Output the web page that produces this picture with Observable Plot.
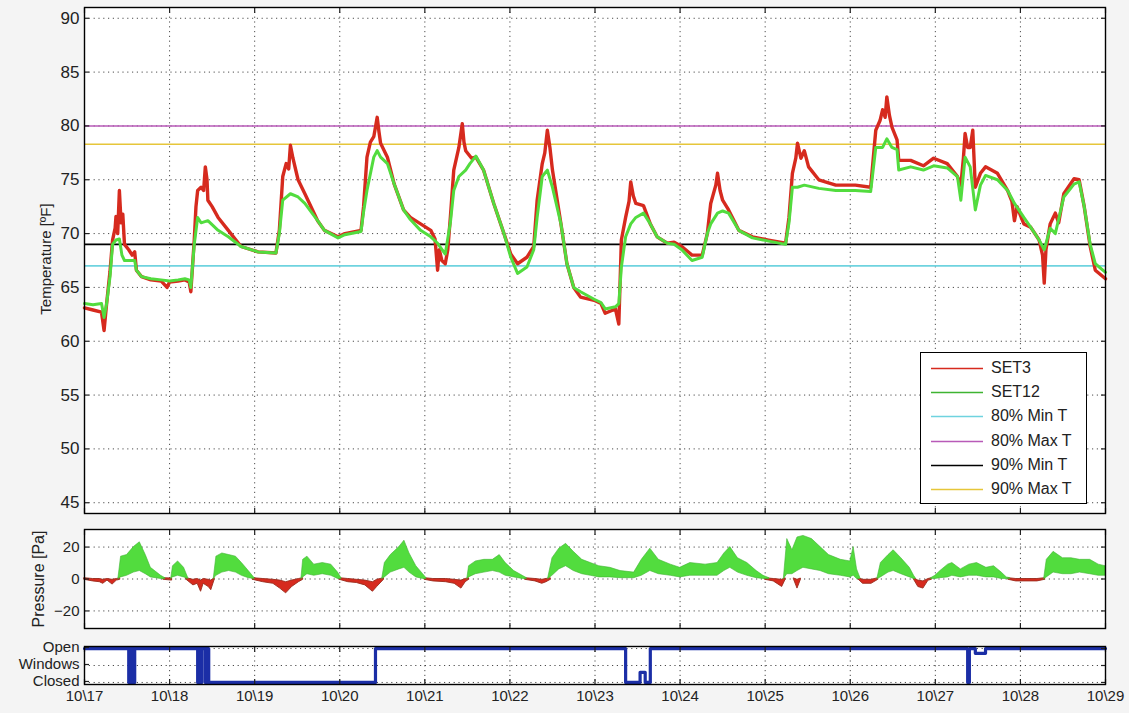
<!DOCTYPE html>
<html><head><meta charset="utf-8">
<script src="https://cdn.jsdelivr.net/npm/d3@7"></script>
<script src="https://cdn.jsdelivr.net/npm/@observablehq/plot@0.6"></script>
<style>
body{margin:0;background:#f4f4f4;}
#fig{position:relative;width:1129px;height:713px;overflow:hidden;font-family:"Liberation Sans",Arial,sans-serif;background:#f4f4f4;}
.panel{position:absolute;left:0;}
.ylab{position:absolute;transform:translate(-50%,-50%) rotate(-90deg);white-space:nowrap;color:#222;}
#legend{position:absolute;left:920px;top:352px;width:165px;height:150px;background:#fff;border:1px solid #000;}
#legend .row{position:absolute;left:0;width:165px;height:20px;}
#legend svg{position:absolute;left:8px;top:0;}
#legend .tx{position:absolute;left:70px;top:0;font-size:16px;line-height:20px;color:#222;}
</style></head><body><div id="fig"></div>
<script>
// ---------- data ----------
const dayLabels = ["10\\17","10\\18","10\\19","10\\20","10\\21","10\\22","10\\23","10\\24","10\\25","10\\26","10\\27","10\\28","10\\29"];
const dayTicks = [0,1,2,3,4,5,6,7,8,9,10,11,12];   // days since 10/17 00:00
const tempTicks = [45,50,55,60,65,70,75,80,85,90];
const pressTicks = [-20,0,20];
const windowTicks = [0,0.5,1];
const windowLabels = ["Closed","Windows","Open"];

// [day, °F]
const set3Temp = [[0,63.1],[0.1,62.9],[0.2,62.7],[0.23,61.0],[0.26,63.5],[0.3,66.5],[0.33,69.4],[0.36,70.5],[0.37,71.6],[0.39,70.0],[0.41,74.0],[0.43,71.0],[0.45,71.8],[0.47,69.0],[0.52,68.5],[0.56,68.0],[0.59,68.3],[0.61,66.6],[0.67,66.0],[0.78,65.7],[0.9,65.6],[0.97,65.0],[1.0,65.5],[1.1,65.6],[1.18,65.7],[1.23,65.5],[1.25,64.6],[1.27,67.0],[1.29,69.4],[1.31,72.5],[1.33,74.0],[1.37,74.3],[1.40,74.0],[1.42,76.2],[1.44,75.0],[1.45,73.1],[1.5,72.5],[1.57,71.5],[1.69,70.3],[1.84,68.8],[2.04,68.3],[2.25,68.2],[2.29,70.3],[2.33,75.3],[2.37,76.5],[2.40,76.0],[2.42,78.2],[2.45,77.0],[2.48,76.0],[2.51,75.0],[2.59,73.7],[2.74,71.2],[2.82,70.3],[2.98,69.7],[3.06,70.0],[3.25,70.3],[3.28,72.5],[3.32,77.1],[3.36,78.5],[3.40,79.0],[3.44,80.8],[3.46,79.5],[3.48,78.4],[3.56,77.1],[3.64,74.6],[3.75,72.2],[3.83,71.5],[3.95,70.9],[4.07,70.3],[4.12,69.5],[4.15,66.6],[4.17,68.5],[4.2,67.5],[4.24,67.2],[4.27,68.5],[4.30,71.5],[4.34,75.9],[4.40,78.0],[4.44,80.2],[4.46,78.5],[4.48,77.7],[4.55,77.0],[4.60,77.1],[4.69,75.9],[4.81,72.8],[4.93,70.0],[5.01,68.1],[5.09,67.2],[5.2,67.8],[5.28,68.8],[5.32,73.1],[5.38,76.5],[5.41,77.5],[5.44,79.6],[5.47,78.0],[5.50,75.9],[5.60,70.9],[5.67,67.2],[5.75,65.0],[5.83,64.1],[5.99,63.8],[6.07,63.5],[6.12,62.6],[6.24,63.0],[6.28,61.6],[6.31,69.4],[6.36,71.5],[6.40,73.0],[6.42,74.8],[6.45,73.5],[6.48,72.8],[6.57,72.6],[6.65,70.9],[6.73,69.7],[6.85,69.1],[6.93,69.2],[7.02,68.8],[7.14,68.0],[7.26,68.0],[7.32,70.0],[7.36,72.8],[7.42,74.5],[7.44,75.6],[7.47,74.0],[7.50,73.1],[7.57,72.2],[7.69,70.3],[7.85,69.7],[8.04,69.4],[8.24,69.1],[8.28,71.5],[8.32,75.6],[8.36,77.0],[8.38,78.4],[8.42,77.0],[8.46,77.7],[8.51,76.2],[8.63,75.0],[8.83,74.5],[9.06,74.5],[9.24,74.3],[9.30,79.6],[9.35,80.5],[9.38,81.5],[9.41,80.8],[9.43,82.7],[9.46,81.0],[9.49,79.9],[9.55,78.7],[9.57,76.8],[9.71,76.8],[9.86,76.3],[9.98,77.0],[10.14,76.5],[10.26,75.3],[10.30,74.5],[10.33,77.0],[10.35,79.3],[10.38,78.0],[10.41,78.0],[10.44,79.6],[10.47,74.3],[10.53,75.6],[10.59,76.2],[10.73,75.6],[10.85,74.0],[10.90,73.0],[10.93,71.2],[10.96,72.5],[11.04,70.9],[11.12,70.6],[11.22,69.4],[11.26,68.0],[11.28,65.4],[11.30,68.5],[11.35,70.9],[11.41,71.9],[11.45,71.0],[11.51,73.7],[11.63,75.1],[11.69,75.0],[11.75,72.5],[11.82,68.8],[11.88,66.6],[12.0,65.8]];

const set12Temp = [[0,63.5],[0.1,63.4],[0.2,63.5],[0.23,62.2],[0.26,63.5],[0.3,66.0],[0.33,69.0],[0.37,69.4],[0.41,69.5],[0.44,68.0],[0.47,67.5],[0.59,67.5],[0.61,66.6],[0.67,66.0],[0.78,65.8],[0.9,65.7],[1.0,65.6],[1.1,65.7],[1.18,65.8],[1.23,65.7],[1.25,65.0],[1.27,67.0],[1.29,69.0],[1.33,71.5],[1.37,71.0],[1.45,71.2],[1.57,70.3],[1.69,69.7],[1.84,68.8],[2.04,68.3],[2.25,68.2],[2.29,70.0],[2.33,73.1],[2.42,73.7],[2.51,73.4],[2.59,72.8],[2.74,71.2],[2.82,70.3],[2.98,69.6],[3.06,69.9],[3.25,70.2],[3.28,72.0],[3.32,74.0],[3.40,77.1],[3.44,77.7],[3.48,77.1],[3.56,76.5],[3.64,74.6],[3.75,72.2],[3.83,71.3],[3.95,70.3],[4.07,69.7],[4.15,69.1],[4.24,68.1],[4.30,71.0],[4.34,74.0],[4.40,75.3],[4.48,75.9],[4.53,76.5],[4.60,77.2],[4.69,75.9],[4.81,72.8],[4.93,70.0],[5.01,67.8],[5.09,66.3],[5.2,66.9],[5.28,68.5],[5.32,71.5],[5.38,75.3],[5.44,75.9],[5.50,74.3],[5.60,70.9],[5.67,67.2],[5.75,65.0],[5.83,64.6],[5.99,63.9],[6.07,63.6],[6.12,63.0],[6.24,63.2],[6.28,63.5],[6.31,66.9],[6.36,69.7],[6.42,70.9],[6.48,71.5],[6.57,71.9],[6.65,70.9],[6.73,69.7],[6.85,69.1],[6.93,69.0],[7.02,68.5],[7.14,67.5],[7.26,67.8],[7.32,70.0],[7.36,70.9],[7.44,71.9],[7.50,72.1],[7.57,71.9],[7.69,70.3],[7.85,69.6],[8.04,69.3],[8.24,69.0],[8.28,71.0],[8.32,74.3],[8.38,74.3],[8.46,74.5],[8.63,74.2],[8.83,74.0],[9.06,74.0],[9.24,73.9],[9.30,78.0],[9.38,78.0],[9.43,78.8],[9.49,78.0],[9.55,77.8],[9.57,75.9],[9.71,76.2],[9.86,75.9],[9.98,76.3],[10.14,76.1],[10.26,75.3],[10.30,73.1],[10.35,77.1],[10.41,76.2],[10.47,72.2],[10.53,74.5],[10.59,75.4],[10.73,75.0],[10.85,74.0],[10.93,72.8],[11.04,71.5],[11.12,70.6],[11.22,69.4],[11.28,68.5],[11.35,70.5],[11.41,70.0],[11.51,73.4],[11.63,74.6],[11.69,74.8],[11.75,72.5],[11.82,69.0],[11.88,67.2],[12.0,66.4]];

const thresholdNames = ["80% Min T","80% Max T","90% Min T","90% Max T"];
const thresholdValues = [67, 80, 69, 78.3];

// [day, low, high] Pa ; null rows = stretches where the series is hidden
const set3Press = [[0,-0.5,0.5],[0.1,-1.5,0],[0.18,-2,0],[0.22,-3,-0.5],[0.27,-1,0],[0.33,-3.5,-0.5],[0.38,-1,0],[0.42,-0.5,0.5],[0.43,null,null],
[0.93,-0.5,0.5],[1.03,-1,0.3],[1.04,null,null],
[1.2,-0.5,0.5],[1.28,-4,-0.5],[1.33,-3,0],[1.37,-8,-1],[1.4,-3,0],[1.46,-5,-0.5],[1.49,-7,-1],[1.53,-0.5,0.5],[1.54,null,null],
[1.98,-0.5,0.5],[2.1,-2,0],[2.22,-3,-0.5],[2.3,-6,-1],[2.37,-9,-2],[2.44,-5,-1],[2.52,-2,0],[2.57,-0.5,0.5],[2.58,null,null],
[3.0,-0.5,0.5],[3.1,-2,0],[3.2,-2.5,-0.5],[3.3,-4,-1],[3.39,-8,-2],[3.44,-5,-0.5],[3.52,-0.5,0.5],[3.53,null,null],
[4.0,-0.5,0.5],[4.1,-1.5,0],[4.25,-2,0],[4.35,-3,-0.5],[4.43,-6,-1],[4.48,-2,0],[4.52,-0.5,0.5],[4.53,null,null],
[5.18,-0.5,0.5],[5.3,-1.5,0],[5.38,-3,-0.5],[5.43,-2,0],[5.48,-0.5,0.5],[5.49,null,null],
[8.0,-0.5,0.5],[8.1,-1.5,0],[8.2,-5,-0.5],[8.24,-0.5,0.5],[8.25,null,null],
[8.34,-0.5,0.3],[8.38,-6,-0.5],[8.42,-0.5,0.3],[8.43,null,null],
[9.1,-0.5,0.5],[9.15,-3,-0.5],[9.25,-3,-0.5],[9.33,-0.5,0.5],[9.34,null,null],
[9.75,-0.5,0.5],[9.8,-5,-1],[9.86,-6,-1.5],[9.92,-1,0],[9.96,-0.5,0.5],[9.97,null,null],
[10.86,-0.5,0.5],[10.95,-1.5,0],[11.2,-1.5,0],[11.29,-0.5,0.5]];

const set12Press = [[0.4,0,1],[0.43,1,14],[0.5,2,15],[0.58,4,20],[0.65,5,23],[0.72,3,15],[0.78,1,7],[0.9,0,2],[0.95,0,0.5],[0.96,null,null],
[1.02,0,0.5],[1.04,1,8],[1.1,2,11],[1.17,1,7],[1.22,0,0.5],[1.23,null,null],
[1.52,0,0.5],[1.55,2,14],[1.62,4,16],[1.7,5,15],[1.78,4,14],[1.85,2,10],[1.93,0.5,5],[2.0,0,0.5],[2.01,null,null],
[2.55,0,0.5],[2.57,1,12],[2.62,3,14],[2.7,2,9],[2.8,3,10],[2.9,2,9],[2.98,0,4],[3.02,0,0.5],[3.03,null,null],
[3.5,0,0.5],[3.53,1,10],[3.6,4,15],[3.7,6,20],[3.76,7,24],[3.82,4,16],[3.9,1,8],[3.98,0,3],[4.02,0,0.5],[4.03,null,null],
[4.5,0,0.5],[4.52,1,8],[4.6,3,11],[4.7,4,12],[4.8,5,12],[4.88,4,15],[4.95,2,10],[5.05,1,5],[5.15,0,2],[5.2,0,0.5],[5.21,null,null],
[5.45,0,0.5],[5.5,2,13],[5.58,6,19],[5.66,8,22],[5.75,5,17],[5.85,3,12],[5.95,2,10],[6.05,1,8],[6.18,1,7],[6.3,0.5,5],[6.46,0.5,4],[6.55,2,12],[6.65,5,19],[6.75,3,12],[6.89,2,9],[7.0,1,7],[7.12,2,10],[7.3,2,9],[7.44,2,10],[7.52,5,16],[7.59,7,20],[7.68,4,13],[7.79,2,10],[7.9,0.5,5],[7.98,0,2],[8.05,0,0.5],[8.06,null,null],
[8.22,0,0.5],[8.26,3,25],[8.32,3,18],[8.38,5,26],[8.45,7,27],[8.55,6,25],[8.65,5,20],[8.75,3,15],[8.89,2,12],[9.0,1,11],[9.04,2,20],[9.08,0,6],[9.12,0,0.5],[9.13,null,null],
[9.32,0,0.5],[9.36,1,10],[9.45,4,15],[9.51,5,18],[9.6,3,13],[9.7,1,7],[9.75,0,2],[9.77,0,0.5],[9.78,null,null],
[9.95,0,0.5],[10.0,0,2],[10.06,0.5,5],[10.15,1,9],[10.2,2,10],[10.3,1,6],[10.4,2,9],[10.49,2,10],[10.6,1,7],[10.69,1,8],[10.78,0,4],[10.84,0,1],[10.88,0,0.5],[10.89,null,null],
[11.28,0,0.5],[11.31,1,12],[11.39,4,17],[11.5,3,13],[11.6,3,13],[11.7,4,12],[11.82,3,12],[11.92,2,9],[12.0,2,8]];

// [day, state] 1 = open, 0 = closed (step after)
const windowState = [[0,1],[0.52,0],[0.53,1],[0.54,0],[0.55,1],[0.56,0],[0.57,1],[0.58,0],[0.59,1],[1.33,0],[1.34,1],[1.35,0],[1.36,1],[1.37,0],[1.38,1],[1.42,0],[1.43,1],[1.44,0],[1.45,1],[1.46,0],[3.42,1],[6.36,0],[6.53,0.3],[6.59,0],[6.65,1],[10.38,0],[10.40,1],[10.47,0.86],[10.59,1],[12,1]];

// ---------- styles ----------
const C = {set3:"#d62a1e", set3dark:"#9a2a1c", set12:"#52dc3e", set12dark:"#3fb432", min80:"#6fd3df", max80:"#b85ab8", min90:"#000000", max90:"#e6c63a", win:"#1b2ea6"};
const thrColors = [C.min80, C.max80, C.min90, C.max90];
const W = 1129, ML = 84, MR = 24;
const gridStyle = {stroke:"#000", strokeOpacity:0.7, strokeDasharray:"1.2,3.6", strokeWidth:1};

function common(yTicks) {
  return [
    Plot.frame({fill:"#fff", stroke:null}),
    Plot.gridX(dayTicks, gridStyle),
    Plot.gridY(yTicks, gridStyle),
  ];
}
function boxTicks(yTicks) {
  return [
    Plot.axisX(dayTicks, {anchor:"bottom", tickSize:-5, tickFormat:()=>"", label:null, strokeWidth:1.2}),
    Plot.axisX(dayTicks, {anchor:"top", tickSize:-5, tickFormat:()=>"", label:null, strokeWidth:1.2}),
    Plot.axisY(yTicks, {anchor:"right", tickSize:-5, tickFormat:()=>"", label:null, strokeWidth:1.2}),
    Plot.frame({stroke:"#000", strokeWidth:1.4})
  ];
}

const fig = document.getElementById("fig");
function place(el, top) { el.classList.add("panel"); el.style.top = top + "px"; fig.appendChild(el); }

// ---------- panel 1: temperature ----------
const p1 = Plot.plot({
  width: W, height: 520, marginLeft: ML, marginRight: MR, marginTop: 7, marginBottom: 7,
  style: {background:"transparent", fontFamily:"Liberation Sans, Arial, sans-serif", fontSize:"17px", color:"#222", overflow:"visible"},
  x: {domain:[0,12]},
  y: {domain:[44,91]},
  marks: [
    ...common(tempTicks),
    Plot.ruleY(thresholdValues, {y: d=>d, stroke: (d,i)=>thrColors[i], strokeWidth: 1.6}),
    Plot.line(set3Temp, {x: d=>d[0], y: d=>d[1], stroke: C.set3, strokeWidth: 3.4}),
    Plot.line(set12Temp, {x: d=>d[0], y: d=>d[1], stroke: C.set12, strokeWidth: 3}),
    Plot.axisY(tempTicks, {anchor:"left", tickSize:-5, tickPadding:10, label:null, strokeWidth:1.2, fill:"#222"}),
    ...boxTicks(tempTicks)
  ]
});
place(p1, 0);

// ---------- panel 2: pressure ----------
const p2 = Plot.plot({
  width: W, height: 115, marginLeft: ML, marginRight: MR, marginTop: 9, marginBottom: 7,
  style: {background:"transparent", fontFamily:"Liberation Sans, Arial, sans-serif", fontSize:"15px", color:"#222", overflow:"visible"},
  x: {domain:[0,12]},
  y: {domain:[-31,31]},
  marks: [
    ...common(pressTicks),
    Plot.areaY(set3Press, {x: d=>d[0], y1: d=>d[1], y2: d=>d[2], fill: C.set3, stroke: C.set3dark, strokeWidth: 0.9}),
    Plot.areaY(set12Press, {x: d=>d[0], y1: d=>d[1], y2: d=>d[2], fill: C.set12, stroke: C.set12dark, strokeWidth: 0.6}),
    Plot.axisY(pressTicks, {anchor:"left", tickSize:-5, tickPadding:10, label:null, strokeWidth:1.2, fill:"#222"}),
    ...boxTicks(pressTicks)
  ]
});
place(p2, 520);

// ---------- panel 3: windows ----------
const p3 = Plot.plot({
  width: W, height: 78, marginLeft: ML, marginRight: MR, marginTop: 11, marginBottom: 29,
  style: {background:"transparent", fontFamily:"Liberation Sans, Arial, sans-serif", fontSize:"15px", color:"#222", overflow:"visible"},
  x: {domain:[0,12]},
  y: {domain:[-0.06,1.06]},
  marks: [
    ...common(windowTicks),
    Plot.line(windowState, {x: d=>d[0], y: d=>d[1], stroke: C.win, strokeWidth: 3.2, curve:"step-after"}),
    Plot.axisY(windowTicks, {anchor:"left", tickSize:-5, tickPadding:10, label:null, strokeWidth:1.2, fill:"#222", dy:-1, tickFormat:(d)=>windowLabels[windowTicks.indexOf(d)]}),
    Plot.axisX(dayTicks, {anchor:"bottom", tickSize:0, tickPadding:6, label:null, fill:"#222", fontSize:15, tickFormat:(d)=>dayLabels[d]}),
    ...boxTicks(windowTicks)
  ]
});
place(p3, 635);

// ---------- axis titles ----------
function ylab(text, x, y, size) {
  const d = document.createElement("div");
  d.className = "ylab"; d.textContent = text;
  d.style.left = x + "px"; d.style.top = y + "px"; d.style.fontSize = size + "px";
  fig.appendChild(d);
}
ylab("Temperature [ºF]", 45, 259, 15);
ylab("Pressure [Pa]", 39, 579, 16);

// ---------- legend ----------
const legendNames = ["SET3","SET12", ...thresholdNames];
const legendColors = [C.set3, C.set12dark, ...thrColors];
const lg = document.createElement("div"); lg.id = "legend";
legendNames.forEach((n,i) => {
  const r = document.createElement("div"); r.className = "row"; r.style.top = (5 + i*24.2) + "px";
  r.innerHTML = `<svg width="56" height="20"><line x1="2" x2="54" y1="10.5" y2="10.5" stroke="${legendColors[i]}" stroke-width="1.4"/></svg><div class="tx"></div>`;
  r.querySelector(".tx").textContent = n;
  lg.appendChild(r);
});
fig.appendChild(lg);
</script></body></html>
